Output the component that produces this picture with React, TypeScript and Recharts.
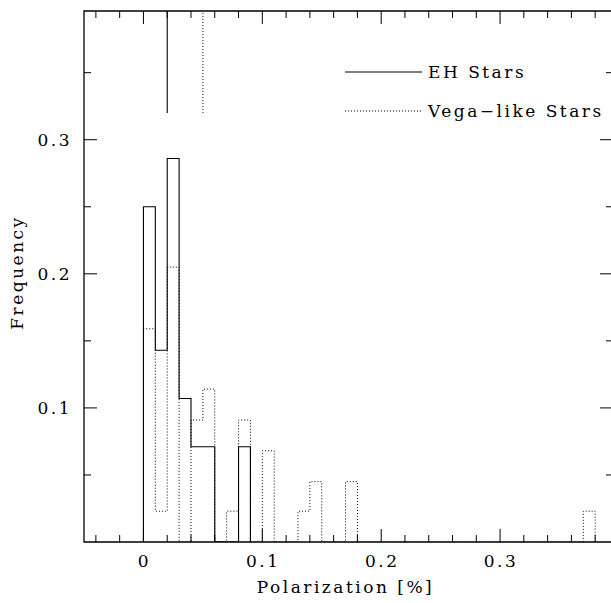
import React from 'react';
import {
    LineChart,
    Line,
    XAxis,
    YAxis,
    ReferenceArea,
    ReferenceLine,
    Legend
} from 'recharts';

// histogram bins (left edge, bin width 0.01) and frequencies
const BIN_WIDTH = 0.01;

const ehBinStart = [0, 0.01, 0.02, 0.03, 0.04, 0.05, 0.08];
const ehFreq = [0.25, 0.143, 0.286, 0.107, 0.071, 0.071, 0.071];

const vegaBinStart = [0, 0.01, 0.02, 0.04, 0.05, 0.07, 0.08, 0.1, 0.13, 0.14, 0.17, 0.37];
const vegaFreq = [0.159, 0.023, 0.205, 0.091, 0.114, 0.023, 0.091, 0.068, 0.023, 0.045, 0.045, 0.023];

// marker lines at the top of the frame (mean values)
const ehMarker = 0.02;
const vegaMarker = 0.05;
const markerFrom = 0.32;

const X_MIN = -0.05;
const X_MAX = 0.395;
const Y_MAX = 0.396;

const xTicks = [-0.04, -0.02, 0, 0.02, 0.04, 0.06, 0.08, 0.1, 0.12, 0.14, 0.16, 0.18, 0.2, 0.22, 0.24, 0.26, 0.28, 0.3, 0.32, 0.34, 0.36, 0.38];
const xLabelTicks = [0, 0.1, 0.2, 0.3];
const yTicks = [0.05, 0.1, 0.15, 0.2, 0.25, 0.3, 0.35];
const yLabelTicks = [0.1, 0.2, 0.3];

const CHART_W = 630;
const CHART_H = 603;
const MARGIN = { top: 11, right: 17, bottom: 0, left: 14 };
const PLOT_TOP = MARGIN.top;
const PLOT_RIGHT = CHART_W - MARGIN.right;

const textStyle: React.CSSProperties = {
    fontFamily: "'DejaVu Serif', serif",
    fontSize: 17,
    letterSpacing: 2.5,
    fill: '#000',
};

// turn bins into a closed step outline
const toOutline = (starts: number[], freqs: number[]) => {
    const pts: { x: number; y: number }[] = [{ x: starts[0], y: 0 }];
    let prevEnd = starts[0];
    starts.forEach((s, i) => {
        if (s > prevEnd + 1e-9) pts.push({ x: prevEnd, y: 0 });
        pts.push({ x: s, y: freqs[i] });
        prevEnd = +(s + BIN_WIDTH).toFixed(4);
    });
    pts.push({ x: prevEnd, y: 0 });
    return pts;
};

const ehData = toOutline(ehBinStart, ehFreq);
const vegaData = toOutline(vegaBinStart, vegaFreq);

const XTick = (props: any) => {
    const { x, y, payload } = props;
    const major = xLabelTicks.includes(payload.value);
    const len = major ? 13 : 7;
    return (
        <g>
            <line x1={x} x2={x} y1={y} y2={y - len} stroke="#000" />
            <line x1={x} x2={x} y1={PLOT_TOP} y2={PLOT_TOP + len} stroke="#000" />
            {major && (
                <text x={x + 1} y={y + 25} textAnchor="middle" style={textStyle}>
                    {String(payload.value)}
                </text>
            )}
        </g>
    );
};

const YTick = (props: any) => {
    const { x, y, payload } = props;
    const major = yLabelTicks.includes(payload.value);
    const len = major ? 13 : 7;
    return (
        <g>
            <line x1={x} x2={x + len} y1={y} y2={y} stroke="#000" />
            <line x1={PLOT_RIGHT} x2={PLOT_RIGHT - len} y1={y} y2={y} stroke="#000" />
            {major && (
                <text x={x - 12} y={y + 6} textAnchor="end" style={textStyle}>
                    {String(payload.value)}
                </text>
            )}
        </g>
    );
};

const XTitle = (props: any) => {
    const vb = props.viewBox || { x: 84, y: 542, width: 529, height: 61 };
    return (
        <text x={vb.x + vb.width / 2 - 3} y={vb.y + 51} textAnchor="middle" style={textStyle}>
            Polarization [%]
        </text>
    );
};

const YTitle = (props: any) => {
    const vb = props.viewBox || { x: 14, y: 11, width: 70, height: 531 };
    const cx = vb.x + 3;
    const cy = vb.y + vb.height / 2 - 4;
    return (
        <text x={cx} y={cy + 6} textAnchor="middle" transform={`rotate(-90 ${cx} ${cy})`} style={textStyle}>
            Frequency
        </text>
    );
};

const LegendBox = (props: any) => {
    const items = props.payload || [];
    return (
        <div>
            {items.map((entry: any, i: number) => (
                <div key={entry.value} style={{ display: 'flex', alignItems: 'center', height: 20, marginTop: i ? 19 : 0 }}>
                    <svg width={77} height={4} style={{ display: 'block' }}>
                        <line x1={0} x2={77} y1={2} y2={2} stroke="#000" strokeWidth={1.1}
                            strokeDasharray={entry.payload?.strokeDasharray} />
                    </svg>
                    <span style={{ marginLeft: 6, fontFamily: "'DejaVu Serif', serif", fontSize: 17, letterSpacing: 2.5, color: '#000', whiteSpace: 'nowrap' }}>
                        {entry.value}
                    </span>
                </div>
            ))}
        </div>
    );
};

const App: React.FC = () => {
    return (
        <div style={{ position: 'fixed', left: 0, top: 0, width: 611, height: 603, overflow: 'hidden', background: '#fff' }}>
            <LineChart width={CHART_W} height={CHART_H} margin={MARGIN}>
                <XAxis
                    dataKey="x"
                    type="number"
                    domain={[X_MIN, X_MAX]}
                    allowDataOverflow
                    ticks={xTicks}
                    interval={0}
                    tick={<XTick />}
                    tickLine={false}
                    tickSize={0}
                    tickMargin={0}
                    axisLine={false}
                    height={61}
                    label={{ content: <XTitle /> }}
                />
                <YAxis
                    type="number"
                    domain={[0, Y_MAX]}
                    allowDataOverflow
                    ticks={yTicks}
                    interval={0}
                    tick={<YTick />}
                    tickLine={false}
                    tickSize={0}
                    tickMargin={0}
                    axisLine={false}
                    width={70}
                    label={{ content: <YTitle /> }}
                />
                <ReferenceArea x1={X_MIN} x2={X_MAX} y1={0} y2={Y_MAX} fill="none" stroke="#000" strokeWidth={1.3} />
                <ReferenceLine
                    segment={[{ x: ehMarker, y: markerFrom }, { x: ehMarker, y: Y_MAX }]}
                    stroke="#000"
                    strokeWidth={1.1}
                />
                <ReferenceLine
                    segment={[{ x: vegaMarker, y: markerFrom }, { x: vegaMarker, y: Y_MAX }]}
                    stroke="#000"
                    strokeWidth={1}
                    strokeDasharray="1 2"
                />
                <Line
                    data={ehData}
                    dataKey="y"
                    name="EH Stars"
                    type="stepAfter"
                    stroke="#000"
                    strokeWidth={1.1}
                    dot={false}
                    activeDot={false}
                    isAnimationActive={false}
                />
                <Line
                    data={vegaData}
                    dataKey="y"
                    name="Vega−like Stars"
                    type="stepAfter"
                    stroke="#000"
                    strokeWidth={1}
                    strokeDasharray="1 2"
                    dot={false}
                    activeDot={false}
                    isAnimationActive={false}
                />
                <Legend
                    layout="horizontal"
                    verticalAlign="middle"
                    align="center"
                    content={<LegendBox />}
                    wrapperStyle={{ left: 345, top: 62, width: 300 }}
                />
            </LineChart>
        </div>
    );
};

export default App;
